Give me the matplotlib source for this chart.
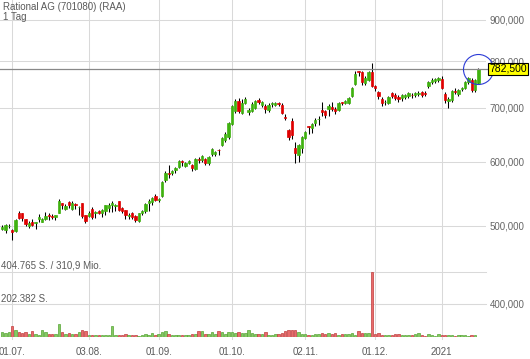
import numpy as np
import pandas as pd
import matplotlib
matplotlib.use("Agg")
import matplotlib.pyplot as plt
from matplotlib.ticker import FixedLocator, NullLocator, FuncFormatter

plt.rcParams['font.family'] = ['Liberation Sans', 'DejaVu Sans']

# trading days (Xetra), 26.06.2020 - 19.01.2021
holidays = ["2020-12-24", "2020-12-25", "2020-12-31", "2021-01-01"]
dates = pd.bdate_range("2020-06-26", "2021-01-19")
dates = dates[~dates.isin(pd.to_datetime(holidays))]

opens = [496, 494, 499, 494, 492, 519, 518, 510, 499, 506,
         504, 510, 506, 510, 515, 514, 513, 519, 534, 524,
         535, 525, 532, 528, 534, 515, 514, 524, 518, 522,
         519, 521, 526, 530, 529, 536, 526, 523, 514, 518,
         514, 507, 519, 521, 533, 535, 545, 538, 544, 569,
         581, 581, 587, 592, 601, 593, 598, 594, 588, 605,
         603, 605, 598, 613, 613, 621, 630, 639, 644, 669,
         694, 714, 690, 710, 692, 694, 700, 716, 706, 704,
         696, 707, 706, 709, 706, 683, 657, 674, 624, 612,
         624, 642, 664, 661, 670, 678, 696, 694, 698, 702,
         698, 696, 711, 710, 710, 724, 750, 777, 776, 752,
         758, 776, 746, 733, 718, 711, 710, 731, 727, 722,
         720, 722, 724, 727, 726, 729, 732, 730, 746, 753,
         757, 758, 760, 728, 714, 716, 735, 728, 738, 741,
         753, 758, 737, 752]
highs = [501, 503, 502, 495, 509, 522, 519, 510, 507, 509,
         506, 517, 511, 520, 519, 517, 516, 540, 534, 532,
         536, 536, 534, 529, 534, 515, 521, 527, 521, 523,
         525, 531, 533, 536, 532, 537, 527, 523, 518, 520,
         515, 519, 523, 533, 540, 543, 548, 541, 568, 585,
         595, 587, 592, 603, 604, 600, 604, 596, 607, 608,
         612, 607, 610, 625, 619, 623, 645, 653, 673, 706,
         718, 720, 718, 722, 700, 712, 716, 720, 714, 708,
         710, 712, 713, 712, 710, 688, 660, 680, 635, 632,
         646, 656, 664, 670, 680, 684, 712, 696, 708, 712,
         702, 712, 712, 716, 722, 744, 778, 778, 777, 766,
         778, 795, 748, 735, 722, 716, 724, 733, 730, 726,
         728, 729, 733, 731, 733, 734, 735, 734, 756, 762,
         763, 764, 766, 732, 722, 737, 740, 738, 744, 755,
         765, 762, 760, 785]
lows = [494, 490, 497, 480, 491, 510, 507, 499, 497, 499,
        496, 505, 505, 508, 508, 510, 508, 519, 524, 523,
        526, 523, 524, 515, 511, 504, 512, 510, 511, 517,
        512, 516, 520, 520, 522, 522, 518, 510, 510, 510,
        506, 505, 516, 519, 522, 530, 536, 535, 543, 567,
        573, 578, 581, 589, 593, 591, 596, 585, 586, 598,
        600, 594, 595, 611, 610, 612, 628, 636, 640, 667,
        690, 690, 688, 708, 686, 692, 698, 708, 702, 690,
        692, 702, 704, 704, 688, 676, 638, 640, 598, 600,
        615, 640, 650, 652, 664, 666, 684, 680, 684, 694,
        688, 694, 706, 707, 708, 722, 748, 766, 748, 748,
        755, 744, 734, 718, 704, 706, 708, 720, 716, 712,
        714, 718, 720, 720, 722, 724, 722, 724, 742, 750,
        752, 754, 738, 710, 700, 712, 728, 724, 735, 738,
        750, 733, 733, 750]
closes = [498, 501, 500, 491, 508, 511, 511, 502, 504, 501,
          505, 513, 510, 514, 514, 513, 515, 537, 530, 529,
          531, 533, 530, 528, 514, 507, 519, 513, 520, 518,
          523, 531, 530, 533, 531, 523, 521, 515, 516, 512,
          508, 518, 521, 532, 536, 541, 538, 540, 566, 582,
          579, 585, 590, 601, 600, 598, 601, 590, 605, 603,
          610, 598, 608, 622, 617, 620, 642, 650, 671, 704,
          714, 694, 710, 718, 696, 708, 714, 712, 712, 698,
          706, 709, 710, 708, 690, 681, 644, 648, 615, 630,
          644, 653, 662, 668, 676, 679, 692, 686, 704, 698,
          694, 710, 709, 714, 720, 742, 772, 775, 753, 762,
          776, 745, 740, 724, 710, 713, 722, 724, 720, 718,
          726, 726, 730, 726, 730, 731, 727, 729, 753, 759,
          760, 762, 741, 716, 718, 735, 733, 736, 741, 753,
          762, 737, 758, 782.5]

# shares traded (no bar yet for the last day)
volume = [30000, 25000, 30000, 67000, 45000, 30000, 25000, 30000, 20000, 35000,
          20000, 14000, 46000, 30000, 20000, 16000, 20000, 81000, 30000, 16000,
          25000, 20000, 20000, 30000, 46000, 36000, 14000, 14000, 10000, 14000,
          10000, 10000, 10000, 67000, 10000, 10000, 10000, 20000, 14000, 14000,
          10000, 6000, 10000, 20000, 14000, 25000, 14000, 20000, 30000, 36000,
          16000, 14000, 14000, 14000, 10000, 10000, 10000, 20000, 20000, 36000,
          40000, 20000, 16000, 30000, 16000, 40000, 30000, 16000, 30000, 34000,
          25000, 30000, 25000, 25000, 46000, 25000, 20000, 20000, 20000, 30000,
          14000, 14000, 16000, 16000, 25000, 36000, 46000, 46000, 46000, 30000,
          20000, 20000, 14000, 14000, 16000, 16000, 26000, 20000, 25000, 20000,
          25000, 14000, 16000, 16000, 20000, 25000, 14000, 36000, 25000, 25000,
          25000, 404765, 20000, 25000, 14000, 10000, 10000, 14000, 20000, 16000,
          10000, 10000, 14000, 10000, 16000, 25000, 14000, 6000, 20000, 10000,
          6000, 20000, 14000, 10000, 10000, 10000, 6000, 10000, 10000, 10000,
          6000, 10000, 10000]

tick_dates = ["2020-07-01", "2020-08-03", "2020-09-01", "2020-10-01",
              "2020-11-02", "2020-12-01", "2021-01-04"]
tick_labels = ["01.07.", "03.08.", "01.09.", "01.10.", "02.11.", "01.12.", "2021"]
price_ticks = [400, 500, 600, 700, 800, 900]
turnover_label = "310,9 Mio."

W, H = 530, 359
GREEN, RED = "#3fb20f", "#e00000"
GRID = "#d9d9d9"
TXT = "#5a5a5a"


def px(x0, y0, x1, y1):
    return [x0 / W, 1 - y1 / H, (x1 - x0) / W, (y1 - y0) / H]


fig = plt.figure(figsize=(W / 100, H / 100), dpi=100)
ax = fig.add_axes(px(0, 0, 485.7, 340))
axv = fig.add_axes(px(0, 271.7, 485.7, 337))

o = np.array(opens, dtype=float)
h = np.array(highs, dtype=float)
l = np.array(lows, dtype=float)
c = np.array(closes, dtype=float)
x = np.arange(len(dates))
up = c >= o
col = np.where(up, GREEN, RED)

xlim = (-2.2 / 3.33, (485.7 - 2.2) / 3.33)

# price panel
ax.set_yscale("log")
ax.set_ylim(360.7, 952.9)
ax.set_xlim(*xlim)
ax.vlines(x, l, h, color="black", lw=0.75, zorder=3)
ax.bar(x, np.abs(c - o), bottom=np.minimum(o, c), width=0.7,
       color=col, edgecolor=col, lw=0.5, zorder=4)

ax.yaxis.tick_right()
ax.yaxis.set_major_locator(FixedLocator(price_ticks))
ax.yaxis.set_minor_locator(NullLocator())
ax.yaxis.set_major_formatter(FuncFormatter(lambda v, p: f"{v:.3f}".replace(".", ",")))
tick_pos = [dates.get_loc(pd.Timestamp(d)) for d in tick_dates]
ax.set_xticks(tick_pos)
ax.set_xticklabels(tick_labels)
ax.xaxis.set_minor_locator(NullLocator())
ax.tick_params(axis="y", length=0, pad=3, labelsize=7, labelcolor="#666666")
ax.tick_params(axis="x", length=0, pad=5, labelsize=7, labelcolor=TXT)
ax.grid(True, color=GRID, lw=0.75)
ax.set_axisbelow(True)
for s in ax.spines.values():
    s.set_visible(False)

last = closes[-1]
ax.axhline(last, color="#888888", lw=0.9, xmax=1.006, clip_on=False, zorder=5)
ax.text(1.007, last, f"{last:.3f}".replace(".", ","), transform=ax.get_yaxis_transform(),
        va="center", ha="left", fontsize=7.5, color="black", zorder=7,
        bbox=dict(boxstyle="square,pad=0.12", fc="#ffff00", ec="black", lw=0.8))
ax.plot(x[-1], last, "o", ms=21.6, mfc="none", mec="#2b3bd6", mew=0.8,
        clip_on=False, zorder=6)

# volume panel
vmax = max(volume)
vcol = np.where(up[:len(volume)], "#84c963", "#e86b6b")
vedge = np.where(up[:len(volume)], "#56a534", "#c03c3c")
axv.set_xlim(*xlim)
axv.set_ylim(0, vmax)
for v in (vmax / 2, vmax):
    axv.axhline(v, color=GRID, lw=0.75, clip_on=False, zorder=0)
axv.bar(x[:len(volume)], volume, width=0.75, color=vcol, edgecolor=vedge, lw=0.5, zorder=2)
axv.patch.set_alpha(0)
axv.axis("off")

fig.text(1 / W, 1 - 266 / H, f"{vmax:,} S. / {turnover_label}".replace(",", ".", 1),
         va="center", fontsize=7, color=TXT)
fig.text(1 / W, 1 - 299 / H, f"{vmax // 2:,} S.".replace(",", "."),
         va="center", fontsize=7, color=TXT)

fig.text(3 / W, 1 - 7 / H, "Rational AG (701080) (RAA)", va="center", fontsize=7, color=TXT)
fig.text(3 / W, 1 - 17 / H, "1 Tag", va="center", fontsize=7, color=TXT)

fig.savefig("out.png", dpi=100)
